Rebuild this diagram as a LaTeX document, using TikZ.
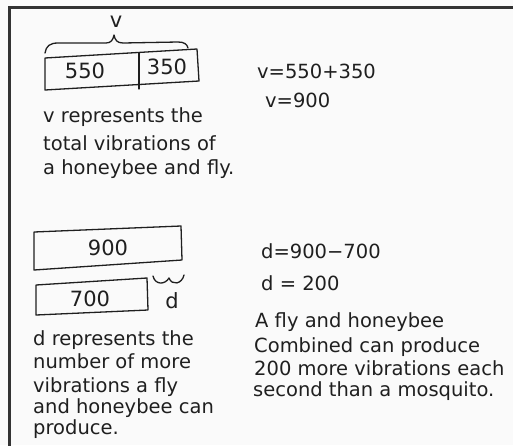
\documentclass[tikz,border=0pt]{standalone}
\usepackage{fontspec}
\setmainfont{DejaVu Sans}
\begin{document}
\begin{tikzpicture}[x=1pt,y=-1pt,
  ink/.style={draw=black!88,line width=1.3pt,line join=round,line cap=round},
  frame/.style={draw=black!80,line width=3pt},
  hand/.style={inner sep=0pt,anchor=base west,text=black!88,font=\fontsize{19.5}{24}\selectfont},
  num/.style={inner sep=0pt,text=black!88,font=\fontsize{21}{24}\selectfont}]
\fill[white!98!black] (0,0) rectangle (513,445);
\useasboundingbox (0,0) rectangle (513,445);
% frame (top and left only)
\coordinate (fbl) at (9.5,446);
\coordinate (ftl) at (9.5,7);
\coordinate (ftr) at (514,7);
\draw[frame] (fbl) -- (ftl) -- (ftr);

% ---- top tape diagram ----
\coordinate (a1) at (45,58);
\coordinate (a2) at (197,49);
\coordinate (a3) at (199,81);
\coordinate (a4) at (45,90);
\coordinate (d1) at (139,53);
\coordinate (d2) at (139,89);
\draw[ink] (a1) -- (a2) -- (a3) -- (a4) -- cycle;
\draw[ink] (d1) -- (d2);
\node[num] (n550) at (85,71) {550};
\node[num] (n350) at (167,67) {350};
\draw[ink] (45,53) .. controls (46,46) and (50,43) .. (58,43) -- (106,43)
  .. controls (111,43) and (113,40) .. (114,35)
  .. controls (115,40) and (117,43) .. (123,43) -- (178,42)
  .. controls (184,42) and (187,44) .. (188,48);
\node[num] (vlab) at (116,22) {v};

\node[hand] (t1) at (43,122) {v represents the};
\node[hand] (t2) at (43,150) {total vibrations of};
\node[hand] (t3) at (43,174) {a honeybee and fly.};

\node[hand] (e1) at (257,78) {v=550+350};
\node[hand] (e2) at (265,107) {v=900};

% ---- bottom tape diagram ----
\coordinate (b1) at (34,232);
\coordinate (b2) at (181,226);
\coordinate (b3) at (182,260);
\coordinate (b4) at (34,270);
\draw[ink] (b1) -- (b2) -- (b3) -- (b4) -- cycle;
\node[num] (n900) at (108,248) {900};
\coordinate (c1) at (36,285);
\coordinate (c2) at (147,278);
\coordinate (c3) at (148,310);
\coordinate (c4) at (36,315);
\draw[ink] (c1) -- (c2) -- (c3) -- (c4) -- cycle;
\node[num] (n700) at (90,299) {700};
\draw[ink] (153,276) .. controls (155,285) and (165,285) .. (169,278)
  .. controls (172,286) and (182,284) .. (184,275);
\node[num,anchor=base] (dlab) at (172,308) {d};

\node[hand] (s1) at (33,345) {d represents the};
\node[hand] (s2) at (33,368) {number of more};
\node[hand] (s3) at (33,392) {vibrations a fly};
\node[hand] (s4) at (33,413) {and honeybee can};
\node[hand] (s5) at (33,434) {produce.};

\node[hand] (f1) at (261,258) {d=900−700};
\node[hand] (f2) at (261,290) {d = 200};

\node[hand] (r1) at (255,327) {A fly and honeybee};
\node[hand] (r2) at (254,352) {Combined can produce};
\node[hand] (r3) at (254,375) {200 more vibrations each};
\node[hand] (r4) at (253,396) {second than a mosquito.};
\end{tikzpicture}
\end{document}
